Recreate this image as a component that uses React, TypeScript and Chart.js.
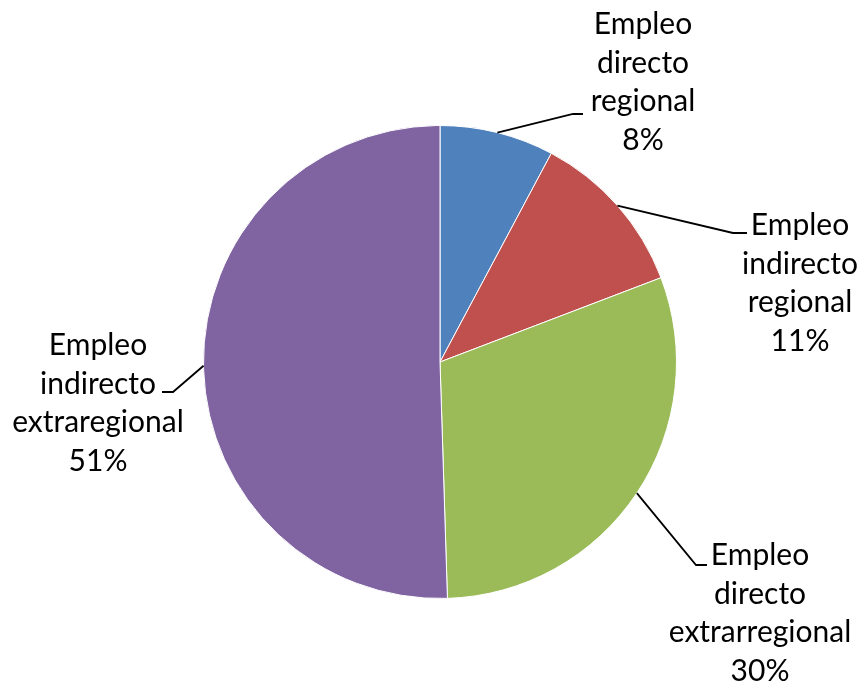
import React, { useEffect, useRef } from "react";
import { Chart, registerables } from "chart.js";

Chart.register(...registerables);

const categories: string[][] = [
  ["Empleo", "directo", "regional"],
  ["Empleo", "indirecto", "regional"],
  ["Empleo", "directo", "extrarregional"],
  ["Empleo", "indirecto", "extraregional"],
];
const values: number[] = [7.8, 11.4, 30.3, 50.5];
const colors: string[] = ["#4F81BD", "#C0504D", "#9BBB59", "#8064A2"];

// layout: label text-centre x and first baseline, and leader elbow, as offsets from pie centre
const labelCenters = [
  { tx: 203, ty: -328, ex: 133, ey: -248, hx: 143 },
  { tx: 360, ty: -127, ex: 293, ey: -129, hx: 307 },
  { tx: 320, ty: 203, ex: 256, ey: 203, hx: 267 },
  { tx: -342, ty: -7, ex: -267, ey: 30, hx: -278 },
];

const FONT = "30px Lato";
const LINE_H = 38.7;

const labelPlugin = {
  id: "outerLabels",
  afterDraw(chart: any) {
    const ctx = chart.ctx;
    const meta = chart.getDatasetMeta(0);
    ctx.save();
    meta.data.forEach((arc: any, i: number) => {
      const { x, y, outerRadius, startAngle, endAngle } = arc.getProps(
        ["x", "y", "outerRadius", "startAngle", "endAngle"],
        true
      );
      const mid = (startAngle + endAngle) / 2;
      const sx = x + Math.cos(mid) * outerRadius;
      const sy = y + Math.sin(mid) * outerRadius;
      const L = labelCenters[i];
      ctx.strokeStyle = "#000";
      ctx.lineWidth = 1.8;
      ctx.beginPath();
      ctx.moveTo(sx, sy);
      ctx.lineTo(x + L.ex, y + L.ey);
      ctx.lineTo(x + L.hx, y + L.ey);
      ctx.stroke();
      const lines = [...categories[i], Math.round(values[i]) + "%"];
      ctx.fillStyle = "#000";
      ctx.font = FONT;
      ctx.textAlign = "center";
      ctx.textBaseline = "alphabetic";
      lines.forEach((t, k) => {
        ctx.fillText(t, x + L.tx, y + L.ty + k * LINE_H);
      });
    });
    ctx.restore();
  },
};

export default function App() {
  const ref = useRef<HTMLCanvasElement | null>(null);
  useEffect(() => {
    if (!ref.current) return;
    const chart = new Chart(ref.current, {
      type: "pie",
      data: {
        labels: categories.map((c) => c.join(" ")),
        datasets: [
          {
            data: values,
            backgroundColor: colors,
            borderColor: "#ffffff",
            borderWidth: 1,
          },
        ],
      },
      options: {
        responsive: false,
        animation: false,
        layout: { padding: { left: 203, right: 183, top: 125, bottom: 84 } },
        plugins: { legend: { display: false }, tooltip: { enabled: false } },
      },
      plugins: [labelPlugin],
    });
    return () => chart.destroy();
  }, []);
  return (
    <div style={{ position: "fixed", left: 0, top: 0, width: 860, height: 683, background: "#fff" }}>
      <canvas ref={ref} width={860} height={683} />
    </div>
  );
}
